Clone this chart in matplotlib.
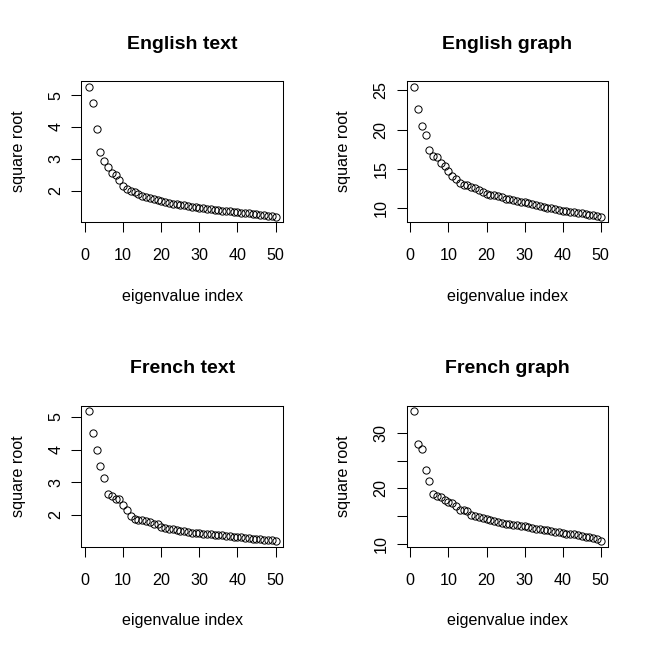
import matplotlib.pyplot as plt
import numpy as np

plt.rcParams['font.family'] = ['Liberation Sans', 'DejaVu Sans']

# ---------------- data ----------------
idx = list(range(1, 51))

english_text = [5.27, 4.74, 3.94, 3.21, 2.93, 2.75, 2.56, 2.48, 2.33, 2.15,
                2.05, 2.00, 1.95, 1.90, 1.85, 1.80, 1.77, 1.74, 1.71, 1.68,
                1.65, 1.62, 1.60, 1.58, 1.56, 1.54, 1.52, 1.50, 1.48, 1.46,
                1.45, 1.43, 1.42, 1.41, 1.40, 1.38, 1.37, 1.36, 1.34, 1.33,
                1.31, 1.30, 1.29, 1.28, 1.26, 1.25, 1.24, 1.22, 1.21, 1.19]

english_graph = [25.5, 22.6, 20.4, 19.3, 17.4, 16.6, 16.5, 15.8, 15.3, 14.7,
                 14.1, 13.7, 13.2, 12.95, 12.9, 12.7, 12.5, 12.3, 12.0, 11.8,
                 11.7, 11.6, 11.5, 11.35, 11.2, 11.1, 11.0, 10.9, 10.8, 10.7,
                 10.6, 10.5, 10.35, 10.2, 10.1, 10.05, 10.0, 9.9, 9.8, 9.65,
                 9.6, 9.55, 9.45, 9.35, 9.3, 9.2, 9.15, 9.05, 9.0, 8.9]

french_text = [5.18, 4.51, 3.99, 3.50, 3.13, 2.64, 2.57, 2.48, 2.47, 2.30,
               2.13, 1.95, 1.88, 1.84, 1.82, 1.79, 1.76, 1.72, 1.70, 1.63,
               1.60, 1.57, 1.55, 1.53, 1.51, 1.49, 1.47, 1.45, 1.44, 1.42,
               1.41, 1.40, 1.39, 1.38, 1.37, 1.36, 1.34, 1.33, 1.32, 1.31,
               1.30, 1.29, 1.27, 1.26, 1.25, 1.24, 1.23, 1.22, 1.21, 1.18]

french_graph = [33.95, 28.0, 27.1, 23.3, 21.3, 18.97, 18.55, 18.4, 17.8, 17.6,
                17.4, 16.7, 16.1, 16.0, 15.9, 15.2, 14.95, 14.8, 14.7, 14.4,
                14.2, 14.05, 13.9, 13.75, 13.6, 13.5, 13.4, 13.3, 13.2, 13.1,
                12.95, 12.8, 12.7, 12.6, 12.5, 12.4, 12.25, 12.1, 12.0, 11.9,
                11.8, 11.75, 11.65, 11.5, 11.35, 11.2, 11.1, 10.95, 10.8, 10.4]

titles = ["English text", "English graph", "French text", "French graph"]
series = [english_text, english_graph, french_text, french_graph]
yticks = [[2, 3, 4, 5], [10, 15, 20, 25], [2, 3, 4, 5], [10, 15, 20, 25, 30]]
yticklabels = [["2", "3", "4", "5"], ["10", "15", "20", "25"],
               ["2", "3", "4", "5"], ["10", "", "20", "", "30"]]
xticks = [0, 10, 20, 30, 40, 50]

# ---------------- layout ----------------
W, H = 650, 649
fig = plt.figure(figsize=(W / 100, H / 100), dpi=100)
boxes = [(81.5, 81.3), (406.7, 81.3), (81.5, 406.0), (406.7, 406.0)]  # left, top px
bw, bh = 201.5, 140.5

fs = 11.6
for (left, top), title, y, yt, ytl in zip(boxes, titles, series, yticks, yticklabels):
    ax = fig.add_axes([left / W, (H - top - bh) / H, bw / W, bh / H])
    ax.plot(idx, y, linestyle='none', marker='o', markersize=5.2,
            markerfacecolor='none', markeredgecolor='black', markeredgewidth=0.7)

    # R style 4% padding
    xr = max(idx) - min(idx)
    ax.set_xlim(min(idx) - 0.04 * xr, max(idx) + 0.04 * xr)
    yr = max(y) - min(y)
    ax.set_ylim(min(y) - 0.04 * yr, max(y) + 0.04 * yr)

    ax.set_xticks(xticks)
    ax.set_xticklabels([str(t) for t in xticks])
    ax.set_yticks(yt)
    ax.set_yticklabels(ytl, rotation=90, va='center')
    ax.tick_params(axis='both', direction='out', length=7, width=0.75,
                   labelsize=fs, colors='black')
    ax.tick_params(axis='x', pad=12)
    ax.tick_params(axis='y', pad=6)
    for s in ax.spines.values():
        s.set_linewidth(0.75)

    ax.set_xlabel("eigenvalue index", fontsize=fs, va='center')
    ax.xaxis.set_label_coords(0.5, -0.53)
    ax.set_ylabel("square root", fontsize=fs, va='center')
    ax.yaxis.set_label_coords(-0.314, 0.5)
    ax.set_title(title, fontsize=14, fontweight='bold', y=1.205, va='center')

fig.savefig("out.png", dpi=100)
